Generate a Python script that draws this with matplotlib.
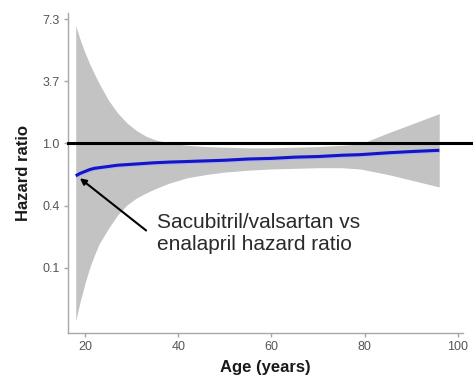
import matplotlib
matplotlib.use("Agg")
import matplotlib.pyplot as plt

plt.rcParams['font.family'] = ['Liberation Sans', 'DejaVu Sans']

# age grid (years) and log hazard ratio curves
ages = [18, 19, 20, 21, 22, 23, 25, 27, 29, 31, 33, 35, 38, 42, 46, 50,
        55, 60, 65, 70, 75, 79, 85, 90, 96]
log_hr = [-0.52, -0.48, -0.45, -0.42, -0.40, -0.39, -0.37, -0.35, -0.34,
          -0.33, -0.32, -0.31, -0.30, -0.29, -0.28, -0.27, -0.25, -0.24,
          -0.22, -0.21, -0.19, -0.18, -0.15, -0.13, -0.11]
ci_upper = [1.90, 1.66, 1.46, 1.28, 1.12, 0.97, 0.70, 0.49, 0.33, 0.21,
            0.12, 0.06, 0.01, -0.03, -0.05, -0.06, -0.07, -0.07, -0.06,
            -0.05, -0.03, -0.01, 0.17, 0.31, 0.48]
ci_lower = [-2.85, -2.53, -2.25, -2.00, -1.80, -1.62, -1.37, -1.15, -0.99,
            -0.88, -0.80, -0.73, -0.64, -0.55, -0.50, -0.46, -0.43, -0.41,
            -0.40, -0.39, -0.39, -0.41, -0.50, -0.59, -0.70]

y_ticks = [-2, -1, 0, 1, 2]
y_labels = ["0.1", "0.4", "1.0", "3.7", "7.3"]
x_ticks = [20, 40, 60, 80, 100]

fig = plt.figure(figsize=(4.73, 3.90), dpi=100)
ax = fig.add_axes([0.1438, 0.1462, 0.8351, 0.8205])

x0, x1 = 16.35, 101.1
ax.set_xlim(x0, x1)
ax.set_ylim(-3.05, 2.1)

ax.fill_between(ages, ci_lower, ci_upper, color="#c3c3c3", lw=0, zorder=1)
ax.fill_between(ages, [v - 0.035 for v in log_hr], [v + 0.035 for v in log_hr],
                color="#aab0f0", lw=0, alpha=0.8, zorder=2)
ax.plot(ages, log_hr, color="#1414c8", lw=2.2, solid_capstyle="butt", zorder=3)
ax.plot([x0, 103.0], [0, 0], color="black", lw=2.2, clip_on=False, zorder=4)

ax.annotate("", xy=(18.9, -0.56), xytext=(33.1, -1.40),
            arrowprops=dict(arrowstyle="-|>", color="black", lw=1.5,
                            mutation_scale=9, shrinkA=0, shrinkB=0))
ax.text(35.4, -1.45, "Sacubitril/valsartan vs\nenalapril hazard ratio",
        fontsize=15, color="#2a2a2a", va="center", ha="left", linespacing=1.2)

ax.set_yticks(y_ticks)
ax.set_yticklabels(y_labels)
ax.set_xticks(x_ticks)

for side in ("top", "right"):
    ax.spines[side].set_visible(False)
for side in ("left", "bottom"):
    ax.spines[side].set_color("#a8a8a8")
    ax.spines[side].set_linewidth(1.0)

ax.tick_params(axis="both", colors="#a8a8a8", labelcolor="#555555",
               labelsize=9, length=3, width=1.0, pad=3)

ax.set_xlabel("Age (years)", fontsize=12, fontweight="bold", color="#1a1a1a",
              labelpad=5)
ax.set_ylabel("Hazard ratio", fontsize=12, fontweight="bold", color="#1a1a1a",
              labelpad=8)

fig.savefig("out.png", dpi=100)
